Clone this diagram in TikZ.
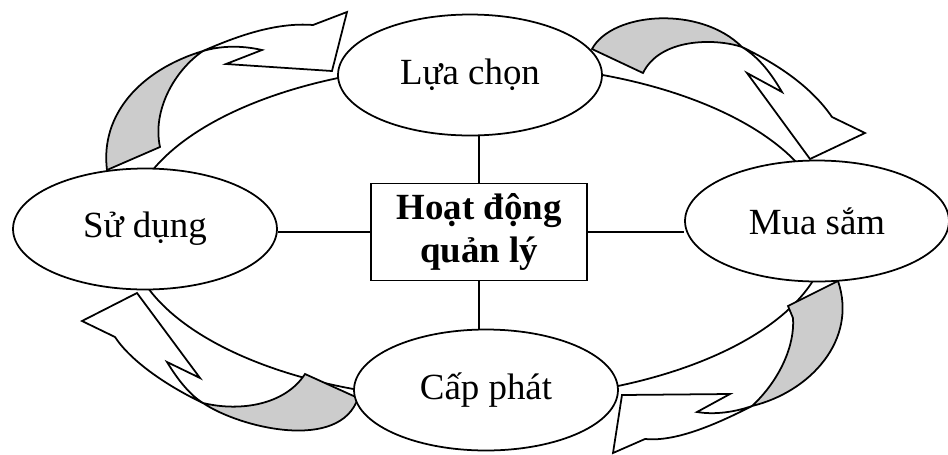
\documentclass[tikz,border=0pt]{standalone}
\usepackage{fontspec}
\setmainfont{Liberation Serif}
\usetikzlibrary{positioning,shapes.geometric}

\begin{document}
\begin{tikzpicture}[
  x=0.02cm, y=-0.02cm,
  font=\fontsize{21}{25}\selectfont,
  line width=1pt,
  phase/.style = {
    ellipse, draw, fill=white, inner sep=0pt,
    minimum width=5.28cm, minimum height=2.42cm,
  },
  core/.style = {
    rectangle, draw, fill=white, align=center,
    font=\fontsize{21}{25}\selectfont\bfseries,
    minimum width=4.32cm, minimum height=1.94cm,
  },
  front/.style = {draw, fill=white, line join=miter},
  back/.style = {draw, fill=black!20},
]
  \useasboundingbox (0,0) rectangle (948,454);

  % the cycle behind the four stages
  \draw (478,232) ellipse [x radius=7cm, y radius=3.36cm];

  % curved arrows, front face white, back face grey
  \draw[front] (203,51) .. controls (235,37) and (275,22) .. (313,25)
    -- (347,12) -- (332,71) -- (226,64) -- (262,50)
    .. controls (240,45) and (220,46) .. (203,51) -- cycle;
  \draw[back] (107,170) .. controls (100,115) and (140,70) .. (203,51)
    .. controls (175,70) and (152,110) .. (160,147) -- cycle;

  \draw[front] (742,47) .. controls (775,63) and (810,85) .. (832,117)
    -- (865,133) -- (810,159) -- (747,73) -- (782,92)
    .. controls (772,75) and (760,58) .. (742,47) -- cycle;
  \draw[back] (592,49) .. controls (612,12) and (700,5) .. (742,47)
    .. controls (715,38) and (660,38) .. (643,73) -- cycle;

  \draw[front] (752,406) .. controls (715,425) and (675,442) .. (645,439)
    -- (613,453) -- (622,395) -- (730,394) -- (697,412)
    .. controls (715,415) and (735,412) .. (752,406) -- cycle;
  \draw[back] (838,281) -- (788,306) -- (793,318)
    .. controls (795,345) and (780,380) .. (752,406)
    .. controls (810,392) and (858,340) .. (838,281) -- cycle;

  \draw[front] (203,403) .. controls (165,385) and (130,360) .. (115,337)
    -- (82,321) -- (137,293) -- (200,378) -- (167,362)
    .. controls (178,380) and (190,395) .. (203,403) -- cycle;
  \draw[back] (203,403) .. controls (240,428) and (340,452) .. (358,398)
    -- (305,374) .. controls (285,405) and (240,412) .. (203,403) -- cycle;

  \node[core] (core) at (479,232) {Hoạt động\\quản lý};
  \node[phase] (lua) at (470,75) {Lựa chọn};
  \node[phase] (mua) at (817,221) {Mua sắm};
  \node[phase] (cap) at (486,390) {Cấp phát};
  \node[phase] (sud) at (145,229) {Sử dụng};

  \draw (core.north) -- (core.north |- lua.south);
  \draw (core.south) -- (core.south |- cap.north);
  \draw (core.west) -- (core.west -| sud.east);
  \draw (core.east) -- (core.east -| mua.west);
\end{tikzpicture}
\end{document}
